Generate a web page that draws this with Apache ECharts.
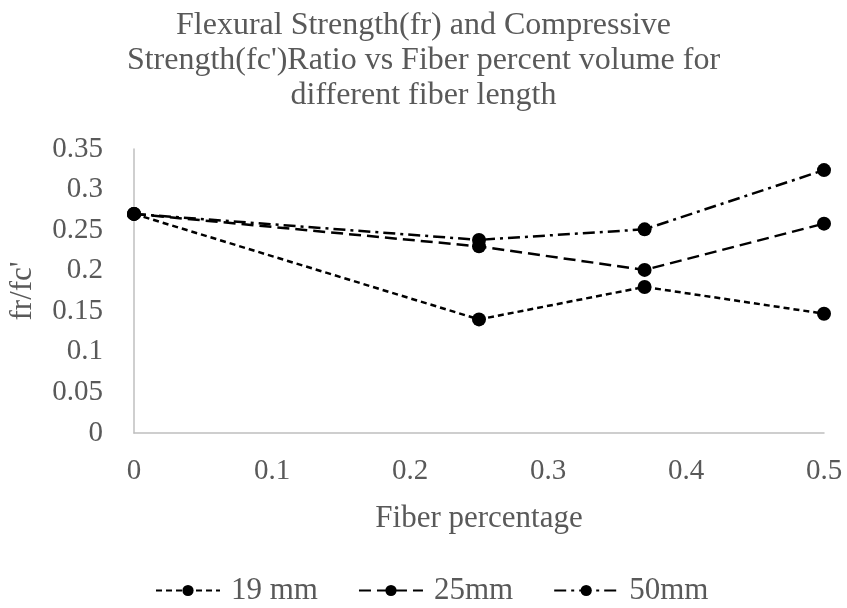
<!DOCTYPE html>
<html>
<head>
<meta charset="utf-8">
<script src="https://cdn.jsdelivr.net/npm/echarts@6/dist/echarts.min.js"></script>
<style>html,body{margin:0;padding:0;background:#fff}#c{width:847px;height:608px}</style>
</head>
<body>
<div id="c"></div>
<script>
const fiberPct = [0, 0.25, 0.37, 0.5];
const s19 = [0.27, 0.140, 0.180, 0.147];
const s25 = [0.27, 0.230, 0.201, 0.258];
const s50 = [0.27, 0.238, 0.251, 0.324];
const seriesNames = ['19 mm', '25mm', '50mm'];
const titleLines = ['Flexural Strength(fr) and Compressive', "Strength(fc')Ratio vs Fiber percent volume for", 'different fiber length'];

const font = 'Liberation Serif, Times New Roman, serif';
const gray = '#595959';
function pts(vals){ return fiberPct.map((x,i)=>[x, vals[i]]); }
const dashes = [[6,4],[12,6],[12,5,3,5]];
const chart = echarts.init(document.getElementById('c'));
chart.setOption({
  animation:false,
  title:{text:titleLines.join('\n'), left:'center', top:3,
    textStyle:{fontFamily:font, fontSize:32, fontWeight:'normal', color:gray, lineHeight:35}},
  grid:{left:134, right:23, top:149, bottom:175, outerBoundsMode:'none', containLabel:false},
  xAxis:{type:'value', min:0, max:0.5, interval:0.1,
    name:'Fiber percentage', nameLocation:'middle', nameGap:70,
    nameTextStyle:{fontFamily:font, fontSize:31, color:gray},
    axisLine:{show:true, lineStyle:{color:'#bfbfbf', width:1.5}},
    axisTick:{show:false}, splitLine:{show:false},
    axisLabel:{fontFamily:font, fontSize:29, color:gray, margin:24}},
  yAxis:{type:'value', min:0, max:0.35, interval:0.05,
    name:"fr/fc'", nameLocation:'middle', nameGap:96, nameRotate:90,
    nameTextStyle:{fontFamily:font, fontSize:31, color:gray},
    axisLine:{show:true, lineStyle:{color:'#bfbfbf', width:1.5}},
    axisTick:{show:false}, splitLine:{show:false},
    axisLabel:{fontFamily:font, fontSize:29, color:gray, margin:31}},
  legend:{top:570, left:150, itemWidth:64, itemHeight:14, itemGap:40,
    textStyle:{fontFamily:font, fontSize:31, color:gray, padding:[0,0,0,6]},
    data:seriesNames},
  series:[s19,s25,s50].map((v,i)=>({
    name:seriesNames[i], type:'line', data:pts(v),
    symbol:'circle', symbolSize:14,
    itemStyle:{color:'#000'},
    lineStyle:{color:'#000', width:2.5, type:dashes[i]}
  }))
});
</script>
</body>
</html>
